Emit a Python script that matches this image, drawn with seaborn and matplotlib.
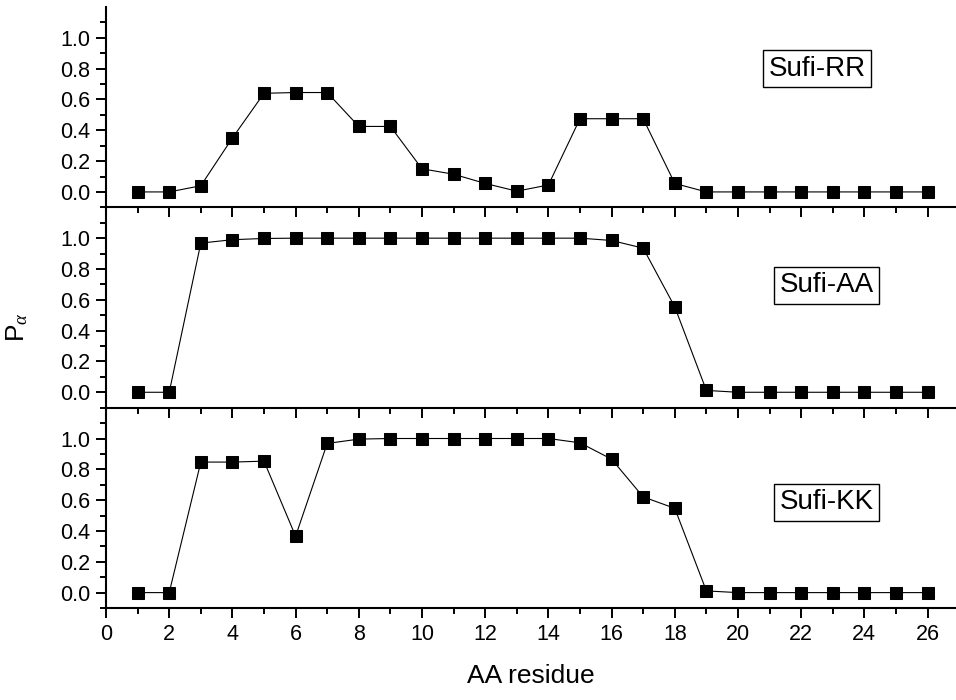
import numpy as np
import pandas as pd
import seaborn as sns
import matplotlib.pyplot as plt
from matplotlib.ticker import FixedLocator, MultipleLocator, FormatStrFormatter

# --- data ---
residues = list(range(1, 27))
sufi_rr = [0.0, 0.0, 0.04, 0.35, 0.64, 0.645, 0.645, 0.425, 0.425, 0.15, 0.115, 0.055, 0.005,
           0.045, 0.475, 0.475, 0.475, 0.055, 0.0, 0.0, 0.0, 0.0, 0.0, 0.0, 0.0, 0.0]
sufi_aa = [0.0, 0.0, 0.968, 0.99, 0.998, 1.0, 1.0, 1.0, 1.0, 1.0, 1.0, 1.0, 1.0,
           1.0, 1.0, 0.985, 0.935, 0.554, 0.012, 0.0, 0.0, 0.0, 0.0, 0.0, 0.0, 0.0]
sufi_kk = [0.0, 0.0, 0.847, 0.847, 0.853, 0.366, 0.968, 0.996, 1.0, 1.0, 1.0, 1.0, 1.0,
           1.0, 0.972, 0.866, 0.621, 0.547, 0.011, 0.0, 0.0, 0.0, 0.0, 0.0, 0.0, 0.0]
panel_names = ['Sufi-RR', 'Sufi-AA', 'Sufi-KK']
label_pos = [(22.5, 0.80), (22.8, 0.695), (22.8, 0.585)]

sns.set_style('ticks')
plt.rcParams['font.family'] = ['Liberation Sans', 'DejaVu Sans']
plt.rcParams['mathtext.fontset'] = 'custom'
plt.rcParams['mathtext.rm'] = 'Liberation Sans'
plt.rcParams['mathtext.it'] = 'Liberation Serif:italic'
for key in ['text.color', 'axes.labelcolor', 'xtick.color', 'ytick.color', 'axes.edgecolor']:
    plt.rcParams[key] = 'black'

fig, axes = plt.subplots(3, 1, figsize=(9.56, 7.0), dpi=100, sharex=True)
fig.subplots_adjust(left=0.1109, right=1.0, top=0.99, bottom=0.1314, hspace=0)

for i, (ax, vals, name, (tx, ty)) in enumerate(zip(axes, [sufi_rr, sufi_aa, sufi_kk], panel_names, label_pos)):
    # upper panels on top so their bottom spine + ticks are not covered
    ax.set_zorder(10 - i)
    ax.patch.set_visible(False)
    df = pd.DataFrame({'res': residues, 'p': vals})
    sns.lineplot(data=df, x='res', y='p', ax=ax, color='black', linewidth=0.8,
                 marker='s', markersize=8, markeredgecolor='black', markerfacecolor='black')
    ax.set_xlim(0, 26.9)
    ax.set_ylim(-0.1, 1.2)
    ax.yaxis.set_major_locator(FixedLocator([0.0, 0.2, 0.4, 0.6, 0.8, 1.0]))
    ax.yaxis.set_minor_locator(FixedLocator([-0.1, 0.1, 0.3, 0.5, 0.7, 0.9, 1.1]))
    ax.yaxis.set_major_formatter(FormatStrFormatter('%.1f'))
    ax.xaxis.set_major_locator(MultipleLocator(2))
    ax.xaxis.set_minor_locator(MultipleLocator(1))
    ax.tick_params(which='major', direction='out', length=7.5, width=1.4, labelsize=15.5, pad=4)
    ax.tick_params(which='minor', direction='out', length=4, width=1.4)
    for side in ['top', 'right']:
        ax.spines[side].set_visible(False)
    for side in ['left', 'bottom']:
        ax.spines[side].set_linewidth(1.5)
    ax.set_xlabel('')
    ax.set_ylabel('')
    ax.text(tx, ty, name, ha='center', va='center', fontsize=20,
            bbox=dict(boxstyle='square,pad=0.2', fc='white', ec='black', lw=1.0))

axes[-1].set_xlabel('AA residue', fontsize=19, labelpad=14)
fig.text(17 / 956, 1 - 327 / 700, r'P$_{\alpha}$', rotation=90, fontsize=19,
         ha='center', va='center')

fig.savefig('out.png', dpi=100, facecolor='white')
